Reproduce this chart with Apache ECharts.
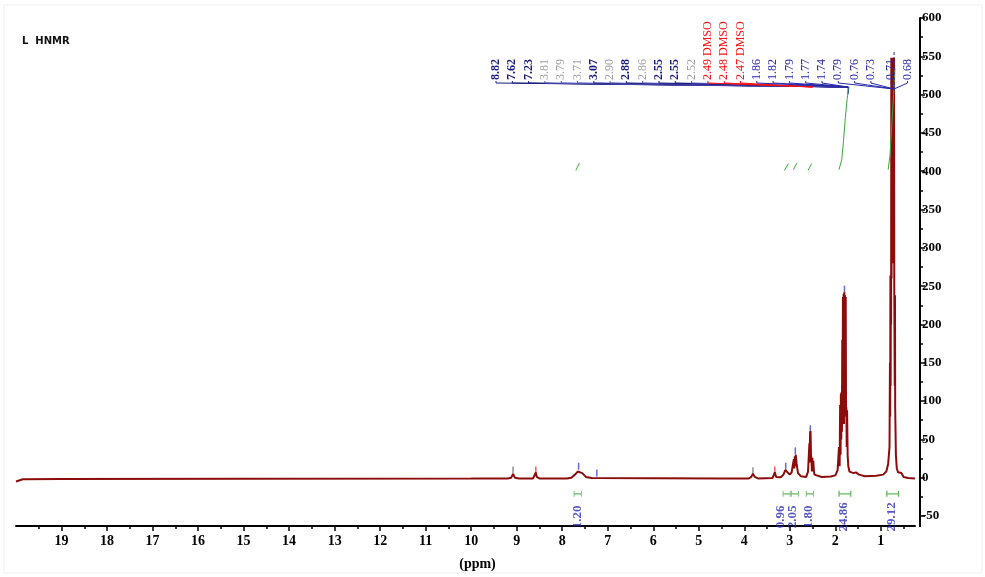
<!DOCTYPE html>
<html>
<head>
<meta charset="utf-8">
<script src="https://cdn.jsdelivr.net/npm/echarts@6/dist/echarts.min.js"></script>
<style>
html, body { margin: 0; padding: 0; background: #fff; }
#main { width: 985px; height: 577px; }
</style>
</head>
<body>
<div id="main"></div>
<script>
// x ticks (ppm)
const xTicks = [1, 2, 3, 4, 5, 6, 7, 8, 9, 10, 11, 12, 13, 14, 15, 16, 17, 18, 19];
const xMinorTicks = [0.5, 1.5, 2.5, 3.5, 4.5, 5.5, 6.5, 7.5, 8.5, 9.5, 10.5, 11.5, 12.5, 13.5, 14.5, 15.5, 16.5, 17.5, 18.5, 19.5];

// spectrum [ppm, intensity]
const spectrum = [
  [20.0, -5], [19.85, -2], [19.0, -1.8], [15.0, -1.5], [10.0, -1.2], [9.2, -1], [9.12, 0], [9.08, 5], [9.04, 0], [8.95, -1],
  [8.64, -1], [8.6, 1], [8.58, 7], [8.56, 1], [8.5, -1],
  [7.9, -1], [7.8, 0], [7.72, 4], [7.66, 8], [7.62, 9], [7.56, 6], [7.48, 1], [7.35, -0.5],
  [4.5, -1], [3.9, -1], [3.85, 1], [3.81, 5], [3.77, 1], [3.7, -1],
  [3.38, -0.5], [3.35, 2], [3.33, 7], [3.3, 1], [3.2, 0.5], [3.14, 4], [3.1, 10], [3.06, 9], [3.0, 4],
  [2.96, 7], [2.93, 18], [2.91, 24], [2.9, 12], [2.89, 28], [2.88, 15], [2.87, 30], [2.85, 18], [2.82, 6], [2.76, 2],
  [2.64, 1], [2.6, 8], [2.57, 45], [2.565, 20], [2.555, 60], [2.55, 25], [2.545, 61], [2.535, 30], [2.525, 24], [2.515, 8],
  [2.505, 26], [2.495, 10], [2.485, 22], [2.47, 8], [2.46, 4], [2.42, 1.5],
  [2.3, 1], [2.1, 1.5], [2.0, 3], [1.95, 10], [1.92, 40], [1.905, 15], [1.895, 95], [1.885, 30], [1.878, 110], [1.87, 50],
  [1.862, 112], [1.855, 60], [1.848, 180], [1.84, 90], [1.833, 236], [1.826, 120], [1.818, 240], [1.81, 70],
  [1.802, 242], [1.795, 130], [1.788, 238], [1.78, 110], [1.772, 236], [1.765, 80], [1.758, 92], [1.75, 40],
  [1.742, 88], [1.73, 30], [1.715, 15], [1.69, 8],
  [1.6, 6], [1.55, 7], [1.48, 4], [1.35, 2], [1.1, 2.5], [0.95, 4], [0.88, 8], [0.84, 18], [0.81, 40], [0.8, 150],
  [0.795, 80], [0.79, 264], [0.785, 120], [0.78, 262], [0.775, 200], [0.77, 548], [0.765, 260], [0.76, 548],
  [0.755, 330], [0.75, 548], [0.745, 300], [0.74, 546], [0.735, 280], [0.73, 548], [0.725, 360], [0.72, 545],
  [0.715, 300], [0.71, 548], [0.705, 240], [0.7, 240], [0.695, 120], [0.69, 238], [0.685, 90], [0.68, 70],
  [0.67, 30], [0.65, 12], [0.62, 7], [0.58, 6], [0.55, 6], [0.5, 1], [0.4, -0.5], [0.25, -1]
];

// peak pick marks
const peakMarks = [[9.08, 10], [8.58, 10], [7.64, 15], [7.24, 6], [3.81, 9], [3.33, 10], [3.09, 15], [2.88, 35], [2.55, 64], [1.86, 116], [1.80, 246]];
const peakMarkColors = ['#777', '#e33', '#44c', '#44c', '#777', '#e33', '#44c', '#44c', '#44c', '#44c', '#44c'];

// integral curves
const integralCurves = [
  [[7.7, 401], [7.62, 411]],
  [[3.12, 401], [3.03, 410]],
  [[2.92, 402], [2.84, 411]],
  [[2.6, 401], [2.52, 410]],
  [[1.92, 402], [1.86, 415], [1.82, 440], [1.78, 470], [1.74, 495], [1.7, 510]],
  [[0.84, 402], [0.8, 420], [0.76, 460], [0.72, 500], [0.69, 535]]
];

// integration values
const integralText = ['1.20', '0.96', '2.05', '1.80', '24.86', '29.12'];
const integralLabelPpm = [7.66, 3.2, 2.93, 2.58, 1.81, 0.76];
const integralMarkPpm = [7.66, 3.07, 2.89, 2.56, 1.79, 0.74];

// peak labels
const peakLabels = ['8.82', '7.62', '7.23', '3.81', '3.79', '3.71', '3.07', '2.90', '2.88', '2.86', '2.55', '2.55', '2.52',
  '2.49 DMSO', '2.48 DMSO', '2.47 DMSO', '1.86', '1.82', '1.79', '1.77', '1.74', '0.79', '0.76', '0.73', '0.71', '0.68'];
const peakLabelKind = ['b', 'b', 'b', 'g', 'g', 'g', 'b', 'g', 'b', 'g', 'b', 'b', 'g',
  'r', 'r', 'r', 'n', 'n', 'n', 'n', 'n', 'n', 'n', 'n', 'n', 'n'];

const serif = '"Liberation Serif", "Times New Roman", serif';
const kindColor = { b: '#1a1a80', g: '#a0a0a0', r: '#ff1010', n: '#2828a8' };

const chart = echarts.init(document.getElementById('main'));

const hPath = 'path://M0,0h2v10h-2z M2,4h16v2h-16z M18,0h2v10h-2z';

const option = {
  animation: false,
  backgroundColor: '#fff',
  title: {
    text: 'L  HNMR',
    left: 17,
    top: 31,
    textStyle: { fontFamily: 'DejaVu Sans', fontWeight: 'bold', fontSize: 10, color: '#111' }
  },
  grid: { left: 16, right: 70, top: 18, bottom: 61 },
  xAxis: [
    {
      type: 'value',
      min: 0.25,
      max: 20,
      inverse: true,
      position: 'bottom',
      offset: 10,
      axisLine: { onZero: false, lineStyle: { color: '#000', width: 2 } },
      axisTick: { customValues: xTicks, length: 5, lineStyle: { color: '#000', width: 1.5 } },
      axisLabel: { customValues: xTicks, fontFamily: serif, fontWeight: 'bold', fontSize: 14, color: '#000', margin: 8 },
      splitLine: { show: false },
      name: '(ppm)',
      nameLocation: 'middle',
      nameGap: 31,
      nameTextStyle: { fontFamily: serif, fontWeight: 'bold', fontSize: 14, color: '#000', padding: [0, 0, 0, 24] }
    },
    {
      type: 'value',
      min: 0.25,
      max: 20,
      inverse: true,
      position: 'bottom',
      offset: 10,
      axisLine: { show: false, onZero: false },
      axisTick: { customValues: xMinorTicks, length: 3, lineStyle: { color: '#000', width: 1.5 } },
      axisLabel: { show: false },
      splitLine: { show: false }
    }
  ],
  yAxis: {
    type: 'value',
    position: 'right',
    offset: 5,
    min: -50,
    max: 600,
    interval: 50,
    axisLine: { show: true, onZero: false, lineStyle: { color: '#000', width: 2 } },
    axisTick: { show: true, length: 5, lineStyle: { color: '#000', width: 1.5 } },
    minorTick: { show: true, splitNumber: 2, length: 3, lineStyle: { color: '#000', width: 1.5 } },
    axisLabel: { margin: 2, fontFamily: serif, fontWeight: 'bold', fontSize: 13, color: '#000' },
    splitLine: { show: false }
  },
  series: [
    {
      name: 'spectrum',
      type: 'line',
      data: spectrum,
      showSymbol: false,
      z: 4,
      lineStyle: { color: '#8c0c0c', width: 2 }
    },
    ...integralCurves.map((c) => ({
      type: 'line',
      data: c,
      showSymbol: false,
      z: 5,
      lineStyle: { color: '#3aa83a', width: 1 }
    })),
    {
      name: 'peaks',
      type: 'scatter',
      symbol: 'rect',
      symbolSize: [1.5, 7],
      z: 3,
      data: peakMarks.map((p, i) => ({ value: p, itemStyle: { color: peakMarkColors[i] } }))
    },
    {
      name: 'integralMarks',
      type: 'scatter',
      symbol: hPath,
      z: 3,
      clip: false,
      data: integralMarkPpm.map((p, i) => ({ value: [p, -21], symbolSize: i >= 4 ? [13, 6] : [8, 6] })),
      itemStyle: { color: '#3aa83a' }
    },
    {
      name: 'integrals',
      type: 'scatter',
      symbolSize: 1,
      z: 6,
      clip: false,
      itemStyle: { color: 'transparent' },
      data: integralLabelPpm.map((p, i) => ({ value: [p, -51], name: integralText[i] })),
      label: {
        show: true,
        position: 'inside',
        rotate: 90,
        formatter: (p) => p.name,
        fontFamily: serif,
        fontSize: 13,
        fontWeight: 'bold',
        color: '#2a2ab4'
      },
      labelLayout: { hideOverlap: false }
    }
  ]
};

chart.setOption(option);

// peak labels + leader lines (annotation layer)
const graphics = [{
  type: 'rect',
  shape: { x: 4, y: 5, width: 978, height: 568 },
  style: { fill: null, stroke: '#efefef', lineWidth: 1 },
  silent: true
}];
const px = (ppm) => chart.convertToPixel({ xAxisIndex: 0 }, ppm);
peakLabels.forEach((t, i) => {
  const k = peakLabelKind[i];
  const lx = 496 + 16.3 * i + (i >= 24 ? 4 : 0);
  graphics.push({
    type: 'text',
    x: lx,
    y: 80,
    rotation: Math.PI / 2,
    z: 10,
    style: {
      text: t,
      fill: kindColor[k],
      font: (k === 'b' ? 'bold ' : '') + '12px ' + serif,
      textAlign: 'left',
      textVerticalAlign: 'middle',
      align: 'left',
      verticalAlign: 'middle'
    }
  });
  let tx;
  if (i >= 21) tx = px(0.71);
  else if (k === 'r') tx = px(2.5);
  else tx = px(1.72);
  graphics.push({
    type: 'polyline',
    z: 9,
    shape: { points: [[lx, 81], [lx, 83], [tx, i >= 21 ? 89 : 87]] },
    style: { stroke: k === 'g' ? '#5555bb' : kindColor[k], fill: null, lineWidth: 1 }
  });
});
graphics.push({
  type: 'polyline',
  z: 9,
  shape: { points: [[px(0.71), 52], [px(0.71), 90]] },
  style: { stroke: '#2828a8', lineWidth: 1, lineDash: [3, 2], fill: null }
});
graphics.push({
  type: 'polyline',
  z: 9,
  shape: { points: [[px(1.72), 87], [px(1.72), 94]] },
  style: { stroke: '#2828a8', lineWidth: 1, fill: null }
});
// y axis line continues down to the x axis line
const yBottom = chart.convertToPixel({ yAxisIndex: 0 }, -50);
const yAxisX = px(0.25) + 5;
graphics.push({
  type: 'line',
  z: 9,
  shape: { x1: yAxisX, y1: yBottom, x2: yAxisX, y2: yBottom + 11 },
  style: { stroke: '#000', lineWidth: 2 }
});
chart.setOption({ graphic: graphics });
</script>
</body>
</html>
